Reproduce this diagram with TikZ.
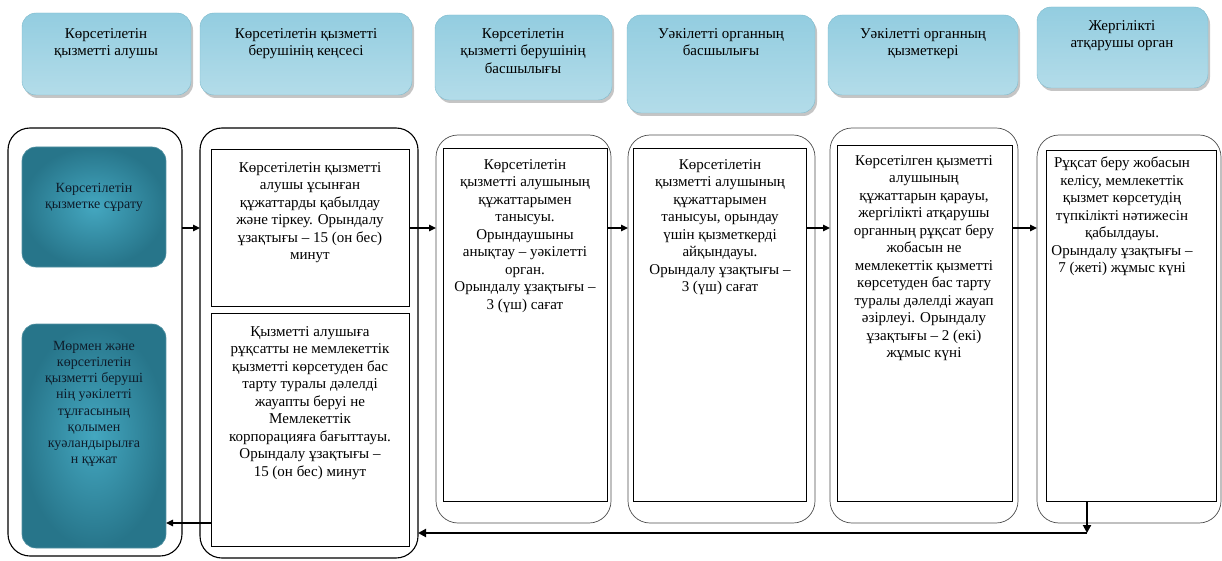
\documentclass[tikz,border=0pt]{standalone}
\usepackage{fontspec}
\setmainfont{Liberation Serif}
\usetikzlibrary{arrows.meta,shadows}
\definecolor{hbA}{HTML}{93CDE0}
\definecolor{hbB}{HTML}{D6EDF3}
\definecolor{hbC}{HTML}{B3DCE9}
\definecolor{hbD}{HTML}{7DB9CB}
\definecolor{dkA}{HTML}{44A7C0}
\definecolor{dkB}{HTML}{27758A}
\definecolor{dkT}{HTML}{0E1C2A}
\newcommand\fsz{\fontsize{15}{17.5}\selectfont}
\newcommand\fsd{\fontsize{14}{16.2}\selectfont}
\newcommand\mkbox[6]{%
  \pgfmathsetmacro\mkW{#5-#3}\pgfmathsetmacro\mkH{#6-#4}%
  \pgfmathsetmacro\mkX{(#3+#5)/2}\pgfmathsetmacro\mkY{(#4+#6)/2}%
  \node[#1, minimum width=\mkW pt, minimum height=\mkH pt, inner sep=0pt, outer sep=0pt] (#2) at (\mkX,\mkY) {};}
\begin{document}
\begin{tikzpicture}[x=1pt,y=-1pt,
  lanethick/.style={draw=black, line width=1.1pt, rounded corners=22pt},
  lanethin/.style={draw=black!70, line width=0.7pt, rounded corners=22pt},
  innerbox/.style={draw=black, line width=0.9pt, fill=white},
  headbox/.style={rounded corners=14pt, top color=hbA, middle color=hbB, bottom color=hbC, draw=hbD, line width=0.4pt,
    drop shadow={shadow xshift=2pt, shadow yshift=-3pt, fill=black!45, opacity=0.5}},
  darkbox/.style={rounded corners=14pt, inner color=dkA, outer color=dkB, draw=dkB!80!white, line width=0.6pt},
  txt/.style={font=\fsz, align=center, anchor=north, inner sep=0pt},
  dtxt/.style={font=\fsd, align=center, anchor=north, inner sep=0pt, text=dkT},
  arr/.style={-{Triangle[length=7pt,width=6.5pt]}, line width=1.3pt},
  arrb/.style={-{Triangle[length=8pt,width=8pt]}, line width=2.4pt}
]
\useasboundingbox (0,0) rectangle (1222,561);
% headers
\mkbox{headbox}{h1}{22}{13}{191}{95}
\mkbox{headbox}{h2}{200}{13}{412}{95}
\mkbox{headbox}{h3}{435}{15}{612}{100}
\mkbox{headbox}{h4}{627}{15}{815}{113}
\mkbox{headbox}{h5}{828}{15}{1018}{95}
\mkbox{headbox}{h6}{1037}{7}{1208}{88}
\node[txt] (h1t) at (106,28) {Көрсетілетін\\қызметті алушы};
\node[txt] (h2t) at (306,28) {Көрсетілетін қызметті\\берушінің кеңсесі};
\node[txt] (h3t) at (523,28) {Көрсетілетін\\қызметті берушінің\\басшылығы};
\node[txt] (h4t) at (721,28) {Уәкілетті органның\\басшылығы};
\node[txt] (h5t) at (923,28) {Уәкілетті органның\\қызметкері};
\node[txt] (h6t) at (1122,20) {Жергілікті\\атқарушы орган};
% lanes
\mkbox{lanethick}{lane1}{8}{128}{182}{556}
\mkbox{lanethick}{lane2}{200}{128}{418}{558}
\mkbox{lanethin}{lane3}{436}{135}{611}{523}
\mkbox{lanethin}{lane4}{628}{135}{815}{523}
\mkbox{lanethin}{lane5}{830}{128}{1018}{523}
\mkbox{lanethin}{lane6}{1037}{135}{1221}{523}
% inner boxes
\mkbox{darkbox}{b1}{22}{147}{166}{267}
\mkbox{darkbox}{b2}{22}{324}{166}{548}
\mkbox{innerbox}{t2a}{211}{149}{409}{306}
\mkbox{innerbox}{t2b}{211}{313}{409}{546}
\mkbox{innerbox}{t3}{443}{148}{607}{501}
\mkbox{innerbox}{t4}{633}{148}{806}{501}
\mkbox{innerbox}{t5}{837}{145}{1012}{501}
\mkbox{innerbox}{t6}{1046}{150}{1216}{501}
% texts
\node[dtxt] (b1t) at (94,183) {Көрсетілетін\\қызметке сұрату};
\node[dtxt] (b2t) at (94,341) {Мөрмен және\\көрсетілетін\\қызметті беруші\\нің уәкілетті\\тұлғасының\\қолымен\\куәландырылға\\н құжат};
\node[txt] (t2at) at (310,162) {Көрсетілетін қызметті\\алушы ұсынған\\құжаттарды қабылдау\\және тіркеу. Орындалу\\ұзақтығы – 15 (он бес)\\минут};
\node[txt] (t2bt) at (310,326) {Қызметті алушыға\\рұқсатты не мемлекеттік\\қызметті көрсетуден бас\\тарту туралы дәлелді\\жауапты беруі не\\Мемлекеттік\\корпорацияға бағыттауы.\\Орындалу ұзақтығы –\\15 (он бес) минут};
\node[txt] (t3t) at (525,159) {Көрсетілетін\\қызметті алушының\\құжаттарымен\\танысуы.\\Орындаушыны\\анықтау – уәкілетті\\орган.\\Орындалу ұзақтығы –\\3 (үш) сағат};
\node[txt] (t4t) at (720,159) {Көрсетілетін\\қызметті алушының\\құжаттарымен\\танысуы, орындау\\үшін қызметкерді\\айқындауы.\\Орындалу ұзақтығы –\\3 (үш) сағат};
\node[txt] (t5t) at (924,155) {Көрсетілген қызметті\\алушының\\құжаттарын қарауы,\\жергілікті атқарушы\\органның рұқсат беру\\жобасын не\\мемлекеттік қызметті\\көрсетуден бас тарту\\туралы дәлелді жауап\\әзірлеуі. Орындалу\\ұзақтығы – 2 (екі)\\жұмыс күні};
\node[txt] (t6t) at (1122,157) {Рұқсат беру жобасын\\келісу, мемлекеттік\\қызмет көрсетудің\\түпкілікті нәтижесін\\қабылдауы.\\Орындалу ұзақтығы –\\7 (жеті) жұмыс күні};
% connectors
\coordinate (ya) at (0,228);
\coordinate (yb) at (0,523);
\coordinate (dn) at (1087,533);
\draw[arr] (lane1.east |- ya) -- (lane2.west |- ya);
\draw[arr] (t2a.east |- ya) -- (lane3.west |- ya);
\draw[arr] (t3.east |- ya) -- (lane4.west |- ya);
\draw[arr] (t4.east |- ya) -- (lane5.west |- ya);
\draw[arr] (t5.east |- ya) -- (lane6.west |- ya);
\draw[arr] (t2b.west |- yb) -- (b2.east |- yb);
\draw[arrb] (t6.south -| dn) -- (dn);
\draw[arrb] (dn) -- (lane2.east |- dn);
\end{tikzpicture}
\end{document}
